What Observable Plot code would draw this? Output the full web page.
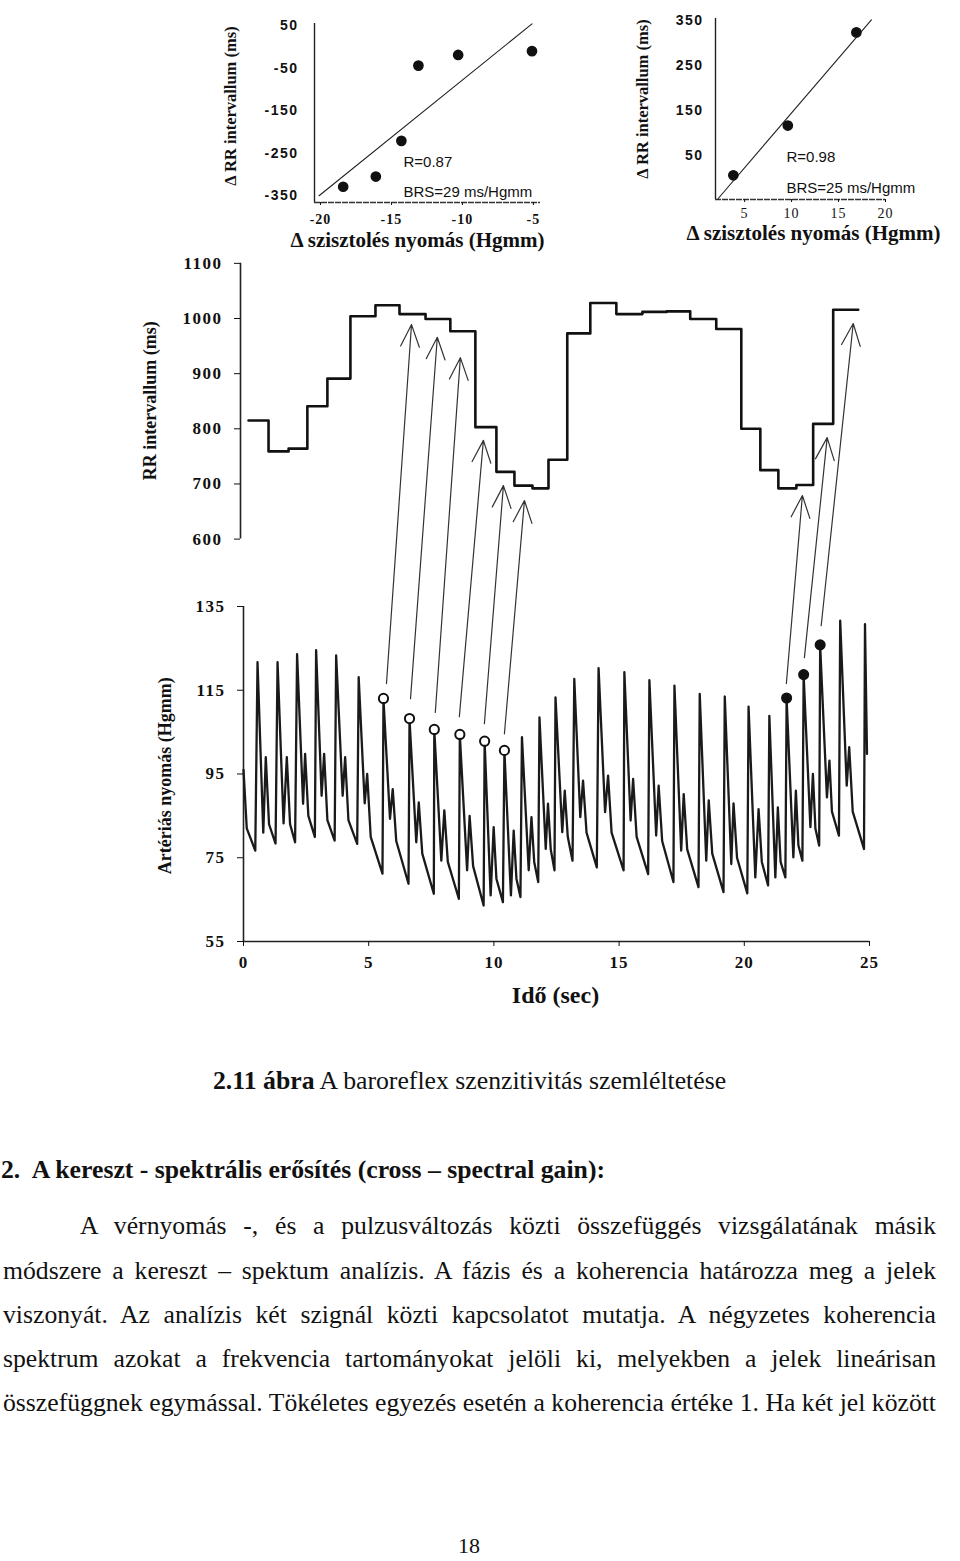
<!DOCTYPE html>
<html><head><meta charset="utf-8">
<script src="https://cdn.jsdelivr.net/npm/d3@7"></script>
<script src="https://cdn.jsdelivr.net/npm/@observablehq/plot@0.6"></script>
<style>
body{margin:0;background:#fff;}
#page{position:relative;width:960px;height:1561px;overflow:hidden;background:#fff;font-family:"Liberation Serif","Times New Roman",serif;color:#111;}
#page svg{position:absolute;overflow:visible;}
.txt{position:absolute;font-size:25.7px;line-height:28px;white-space:nowrap;}
g[aria-label="annot"] text{letter-spacing:2.9px;}
g[aria-label="y-axis tick label"] text{letter-spacing:1.5px;}
g[aria-label="x-axis tick label"] text{letter-spacing:1px;}
g[aria-label="tlabel"] text{letter-spacing:1px;}
</style></head>
<body><div id="page"></div>
<script>
// ---------- top-left scatter ----------
const leftDeltaSys = [-18.4, -16.1, -14.3, -13.1, -10.3, -5.1];
const leftDeltaRR  = [-329, -305, -221, -44, -19, -10];
const leftFitSys   = [-20.1, -5.1];
const leftFitRR    = [-350, 54];
const leftXTicks   = [-20, -15, -10, -5];
const leftYTicks   = [50, -50, -150, -250, -350];
const leftStats    = ["R=0.87", "BRS=29 ms/Hgmm"];

// ---------- top-right scatter ----------
const rightDeltaSys = [3.8, 9.6, 16.9];
const rightDeltaRR  = [5, 116, 324];
const rightFitSys   = [2.1, 18.5];
const rightFitRR    = [-49, 352];
const rightXTicks   = [5, 10, 15, 20];
const rightYTicks   = [350, 250, 150, 50];
const rightStats    = ["R=0.98", "BRS=25 ms/Hgmm"];

const scatterXLabel = "Δ szisztolés nyomás (Hgmm)";
const scatterYLabel = "Δ RR intervallum (ms)";

// ---------- RR interval steps (time boundaries in s, RR in ms) ----------
const rrStepT = [0.2,1.0,1.8,2.55,3.35,4.27,5.27,6.23,7.27,8.26,9.26,10.1,10.82,11.54,12.18,12.93,13.85,14.89,15.93,16.9,17.84,18.88,19.88,20.64,21.36,22.08,22.75,23.55,24.55];
const rrStepV = [815,759,764,841,891,1004,1024,1008,999,977,803,722,697,692,744,973,1028,1008,1012,1013,999,981,800,725,692,698,809,1016];
const rrTicks = [1100,1000,900,800,700,600];

// ---------- arterial pressure waveform (per beat) ----------
const startT = [0, 0.13, 0.47];
const startP = [96, 82, 76.7];
const beatT  = [0.56,1.36,2.14,2.9,3.7,4.6,5.59,6.63,7.62,8.64,9.63,10.42,11.12,11.82,12.46,13.21,14.18,15.21,16.21,17.21,18.22,19.22,20.17,21.0,21.69,22.37,23.03,23.83,24.82];
const peakP  = [121.7,121.7,123.6,124.6,123.3,118.1,112.8,108,105.4,104.2,102.6,100.4,103.8,108.5,113.3,117.7,120.3,119.3,117.4,116.1,114.1,113.5,111.1,108.9,112.9,118.5,125.6,131.6,130.8];
const notchT = [0.79,1.6,2.38,3.12,3.96,4.84,5.85,6.9,7.9,8.93,9.87,10.68,11.39,12.07,12.73,13.45,14.44,15.46,16.48,17.48,18.48,19.48,20.44,21.24,21.96,22.64,23.3,24.09,24.9];
const notchP = [81,83.2,87.9,89.8,89.8,88,84.3,78.7,74.3,72,66,66,72,77.1,81.1,84.7,85.9,83.9,80.3,76.7,74.3,73.5,70.3,70.3,75.1,82.3,89.4,92.2,99.8];
const bumpT  = [0.89,1.73,2.46,3.22,4.06,4.94,5.96,7.0,8.02,9.03,9.99,10.79,11.5,12.16,12.83,13.56,14.56,15.56,16.58,17.58,18.58,19.57,20.57,21.34,22.06,22.74,23.4,24.19];
const bumpP  = [99,99,99.8,99.8,99,95,91.4,88.2,86.3,85,82.3,81.5,84.7,87.9,91,93.4,94.6,93.8,92.2,90.2,88.7,88,86.6,87,91,95,98.2,101.4];
const shoulderT = [1.02,1.86,2.59,3.35,4.19,5.08,6.1,7.14,8.16,9.17,10.1,10.9,11.61,12.27,12.95,13.7,14.7,15.7,16.72,17.72,18.72,19.71,20.7,21.45,22.16,22.84,23.5,24.33];
const shoulderP = [83,83,85,84,84,80,79,76,74,73,70,70,74,77,80,81,81,80,79,77,76,75,74,74,78,82,86,86];
const troughT = [1.28,2.06,2.85,3.64,4.54,5.55,6.59,7.6,8.6,9.59,10.36,11.06,11.77,12.42,13.14,14.11,15.18,16.16,17.17,18.17,19.17,20.12,20.95,21.64,22.32,22.99,23.78,24.78];
const troughP = [78.4,78.7,80,79.1,78.3,71.2,68.8,66.4,65.2,63.6,64.4,65.6,69.2,72,74.3,72.7,72,71.1,69.2,68,66.8,66.5,68.4,70.3,74.3,77.9,80.3,77.1];
const pTicks = [55,75,95,115,135];
const timeTicks = [0,5,10,15,20,25];

// marked beats (1-based beat numbers)
const openBeats = [7,8,9,10,11,12];
const filledBeats = [25,26,27];

// arrows from pressure peaks to RR steps
const arrowFromT = [5.71,6.67,7.66,8.62,9.62,10.42,21.68,22.40,23.07];
const arrowFromP = [116.6,113.0,109.7,108.7,107.0,104.6,116.6,122.8,130.4];
const arrowToT   = [6.71,7.74,8.66,9.58,10.38,11.22,22.32,23.31,24.35];
const arrowToRR  = [989,966,929,779,697,670,679,784,991];

const rrLabel = "RR intervallum (ms)";
const pLabel = "Artériás nyomás (Hgmm)";
const tLabel = "Idő (sec)";

// ---------- page text ----------
const captionBold = "2.11 ábra";
const captionRest = " A baroreflex szenzitivitás szemléltetése";
const heading = "2.\u00a0 A kereszt - spektrális erősítés (cross – spectral gain):";
const paraLines = [
  "A vérnyomás -, és a pulzusváltozás közti összefüggés vizsgálatának másik",
  "módszere a kereszt – spektum analízis. A fázis és a koherencia határozza meg a jelek",
  "viszonyát. Az analízis két szignál közti kapcsolatot mutatja. A négyzetes koherencia",
  "spektrum azokat a frekvencia tartományokat jelöli ki, melyekben a jelek lineárisan",
  "összefüggnek egymással. Tökéletes egyezés esetén a koherencia értéke 1. Ha két jel között"
];
const pageNumber = "18";

const page = document.getElementById("page");

function place(el, left, top) { el.style.left = left + "px"; el.style.top = top + "px"; page.appendChild(el); }

function scatter(o) {
  const pts = o.xs.map((x, i) => ({x, y: o.ys[i]}));
  const fit = o.fx.map((x, i) => ({x, y: o.fy[i]}));
  return Plot.plot({
    width: o.w, height: o.h,
    marginLeft: o.m[0], marginRight: o.m[1], marginTop: o.m[2], marginBottom: o.m[3],
    x: {domain: o.xDomain}, y: {domain: o.yDomain},
    style: {fontFamily: "Liberation Serif, serif", fontSize: "14px", background: "transparent", color: "#111"},
    marks: [
      Plot.ruleX([o.xDomain[0]], {stroke: "#222", strokeWidth: 1.4}),
      Plot.ruleY([o.yDomain[0]], {stroke: "#333", strokeWidth: 1.4, strokeDasharray: "6,1"}),
      Plot.axisY({ticks: o.yTicks, tickSize: 0, tickPadding: o.yPad, label: null, tickFormat: d => String(d),
        fontFamily: "Liberation Sans, Arial, sans-serif", fontWeight: "bold", fontSize: 14}),
      Plot.axisX({ticks: o.xTicks, tickSize: 3, tickPadding: o.xPad, label: null, tickFormat: d => String(d),
        fontFamily: "Liberation Serif, serif", fontWeight: o.xBold ? "bold" : "normal", fontSize: 14}),
      Plot.line(fit, {x: "x", y: "y", stroke: "#222", strokeWidth: 1.1}),
      Plot.dot(pts, {x: "x", y: "y", r: 4.6, fill: "#111", stroke: "#111"}),
      Plot.text([o.stats[0]], {text: d => d, frameAnchor: "bottom-left", dx: o.annDx, dy: o.annDy[0],
        textAnchor: "start", lineAnchor: "middle",
        fontFamily: "Liberation Sans, Arial, sans-serif", fontSize: 15, ariaLabel: "annot"}),
      Plot.text([o.stats[1]], {text: d => d, frameAnchor: "bottom-left", dx: o.annDx, dy: o.annDy[1],
        textAnchor: "start", lineAnchor: "middle",
        fontFamily: "Liberation Sans, Arial, sans-serif", fontSize: 15, ariaLabel: "annot"}),
      Plot.text([scatterXLabel], {text: d => d, frameAnchor: "bottom", dx: o.xl[0], dy: o.xl[1],
        textAnchor: "middle", lineAnchor: "middle",
        fontFamily: "Liberation Serif, serif", fontWeight: "bold", fontSize: 21}),
      Plot.text([scatterYLabel], {text: d => d, frameAnchor: "left", dx: o.yl[0], dy: o.yl[1], rotate: -90,
        textAnchor: "middle", lineAnchor: "middle",
        fontFamily: "Liberation Serif, serif", fontWeight: "bold", fontSize: 16.5})
    ]
  });
}

const sL = scatter({xs: leftDeltaSys, ys: leftDeltaRR, fx: leftFitSys, fy: leftFitRR,
  xTicks: leftXTicks, yTicks: leftYTicks, xDomain: [-20.42, -4.5], yDomain: [-366, 55],
  w: 350, h: 260, m: [104, 20, 23, 58], yPad: 16, xPad: 9, xBold: true, stats: leftStats,
  annDx: 89, annDy: [-40, -10], xl: [-10, 38], yl: [-84, -7]});
place(sL, 210, 0);

const sR = scatter({xs: rightDeltaSys, ys: rightDeltaRR, fx: rightFitSys, fy: rightFitRR,
  xTicks: rightXTicks, yTicks: rightYTicks, xDomain: [1.9, 20], yDomain: [-49, 355],
  w: 340, h: 260, m: [95, 75, 18, 61], yPad: 12, xPad: 6, xBold: false, stats: rightStats,
  annDx: 71, annDy: [-42, -11], xl: [13, 34], yl: [-73, -10]});
place(sR, 620, 0);

// ---------- main chart: shared vertical scale (pressure units) ----------
const rrK = 0.1317;                // Hgmm-equivalent per ms on the shared axis
const rr2p = r => 203.77 - (1000 - r) * rrK;
const p2rr = p => 1000 - (203.77 - p) / rrK;

const rrSteps = rrStepT.map((t, i) => ({t, v: rr2p(rrStepV[Math.min(i, rrStepV.length - 1)])}));

const wave = [];
startT.forEach((t, i) => wave.push({t, p: startP[i]}));
beatT.forEach((t, i) => {
  wave.push({t, p: peakP[i]});
  wave.push({t: notchT[i], p: notchP[i]});
  if (i < bumpT.length) {
    wave.push({t: bumpT[i], p: bumpP[i]});
    wave.push({t: shoulderT[i], p: shoulderP[i]});
    wave.push({t: troughT[i], p: troughP[i]});
  }
});
const openDots = openBeats.map(b => ({t: beatT[b - 1], p: peakP[b - 1]}));
const filledDots = filledBeats.map(b => ({t: beatT[b - 1], p: peakP[b - 1]}));
const arrows = arrowFromT.map((t, i) => ({x1: t, y1: arrowFromP[i], x2: arrowToT[i], y2: rr2p(arrowToRR[i])}));

const main = Plot.plot({
  width: 960, height: 770,
  marginLeft: 243, marginRight: 91, marginTop: 8, marginBottom: 79,
  x: {domain: [0, 25]},
  y: {domain: [55, 218.1]},
  style: {fontFamily: "Liberation Serif, serif", fontSize: "17px", fontWeight: "bold", background: "transparent", color: "#111"},
  marks: [
    Plot.ruleY([55], {stroke: "#222", strokeWidth: 1.6}),
    Plot.ruleX([0], {y1: () => 55, y2: () => 135, stroke: "#222", strokeWidth: 1.6}),
    Plot.ruleX([0], {y1: () => rr2p(600), y2: () => rr2p(1100), dx: -3, stroke: "#222", strokeWidth: 1.6}),
    Plot.axisY({ticks: pTicks, anchor: "left", tickSize: 6, tickPadding: 12, label: null, fontSize: 17}),
    Plot.axisY({ticks: rrTicks.map(rr2p), tickFormat: d => String(Math.round(p2rr(d))), anchor: "left", tickSize: 6, tickPadding: 12, dx: -3, label: null, fontSize: 17}),
    Plot.axisX({ticks: timeTicks, tickSize: 5, tickPadding: 9, label: null, fontSize: 17}),
    Plot.line(rrSteps, {x: "t", y: "v", curve: "step-after", stroke: "#111", strokeWidth: 2.6}),
    Plot.line(wave, {x: "t", y: "p", stroke: "#1a1a1a", strokeWidth: 2.3, strokeLinejoin: "round"}),
    Plot.arrow(arrows, {x1: "x1", y1: "y1", x2: "x2", y2: "y2", stroke: "#333", strokeWidth: 1.2, headLength: 30, headAngle: 46}),
    Plot.dot(openDots, {x: "t", y: "p", dy: -1, r: 4.6, fill: "white", stroke: "#111", strokeWidth: 2}),
    Plot.dot(filledDots, {x: "t", y: "p", dy: -1, r: 4.8, fill: "#111", stroke: "#111", strokeWidth: 1.5}),
    Plot.text([rrLabel], {text: d => d, y: () => rr2p(851), frameAnchor: "left", dx: -93, rotate: -90,
      textAnchor: "middle", lineAnchor: "middle", fontSize: 18}),
    Plot.text([pLabel], {text: d => d, y: () => 94.6, frameAnchor: "left", dx: -78, rotate: -90,
      textAnchor: "middle", lineAnchor: "middle", fontSize: 18}),
    Plot.text([tLabel], {text: d => d, x: () => 12.46, frameAnchor: "bottom", dy: 54,
      textAnchor: "middle", lineAnchor: "middle", fontSize: 24, ariaLabel: "tlabel"})
  ]
});
place(main, 0, 250);

// ---------- page text ----------
function fitFont(el, target) {
  const w = el.getBoundingClientRect().width;
  const fs = parseFloat(getComputedStyle(el).fontSize);
  el.style.fontSize = (fs * target / w) + "px";
}

const cap = document.createElement("div");
cap.className = "txt";
cap.innerHTML = "<b></b><span></span>";
cap.querySelector("b").textContent = captionBold;
cap.querySelector("span").textContent = captionRest;
place(cap, 213, 1067);
fitFont(cap, 513);

const head = document.createElement("div");
head.className = "txt";
head.style.fontWeight = "bold";
head.textContent = heading;
place(head, 1, 1156);
fitFont(head, 604);

const lineCenters = [1226, 1271, 1315, 1359, 1403];
paraLines.forEach((s, i) => {
  const d = document.createElement("div");
  d.className = "txt";
  d.textContent = s;
  const left = i === 0 ? 80 : 3;
  place(d, left, lineCenters[i] - 14);
  const target = 936 - left;
  const natural = d.getBoundingClientRect().width;
  const spaces = (s.match(/ /g) || []).length;
  d.style.wordSpacing = ((target - natural) / spaces) + "px";
});

const pn = document.createElement("div");
pn.className = "txt";
pn.style.fontSize = "22px";
pn.style.lineHeight = "22px";
pn.textContent = pageNumber;
place(pn, 458, 1535);
</script>
</body></html>
